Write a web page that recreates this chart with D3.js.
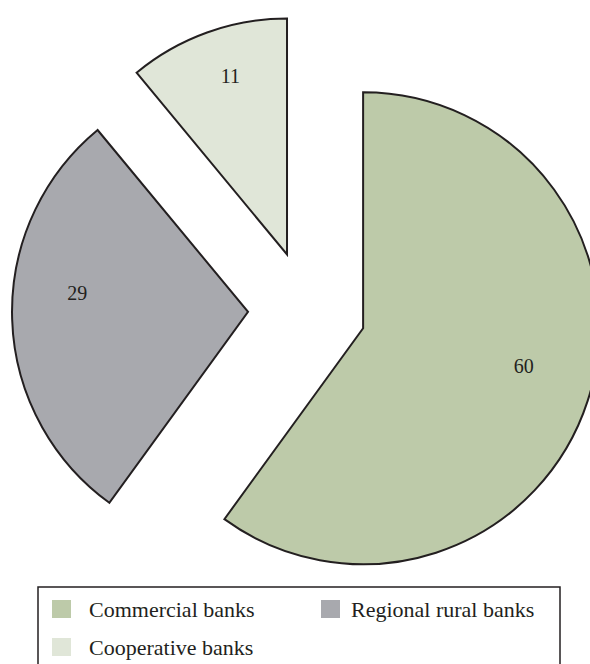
<!DOCTYPE html>
<html>
<head>
<meta charset="utf-8">
<script src="https://cdn.jsdelivr.net/npm/d3@7"></script>
<style>
  body { margin: 0; background: #fff; }
  text { font-family: "Liberation Serif", "DejaVu Serif", serif; fill: #231f20; }
</style>
</head>
<body>
<div id="chart"></div>
<script>
// data
var categories = ["Commercial banks", "Regional rural banks", "Cooperative banks"];
var shares = [60, 29, 11];
var colours = ["#bdcaa9", "#a8a9ae", "#e0e6d8"];

var width = 590, height = 664;
var cx = 306, cy = 310, radius = 236, explode = 59;

var svg = d3.select("#chart")
  .append("svg")
    .attr("width", width)
    .attr("height", height);

var data = categories.map(function(c, i) { return {name: c, value: shares[i], colour: colours[i]}; });

var pie = d3.pie()
  .sort(null)
  .value(function(d) { return d.value; });

var arc = d3.arc().innerRadius(0).outerRadius(radius);

var g = svg.append("g")
  .attr("transform", "translate(" + cx + "," + cy + ")");

function mid(d) { return (d.startAngle + d.endAngle) / 2; }

var slices = g.selectAll("g.slice")
  .data(pie(data))
  .enter().append("g")
    .attr("class", "slice")
    .attr("transform", function(d) {
      var a = mid(d);
      return "translate(" + (Math.sin(a) * explode + 1) + "," + (-Math.cos(a) * explode) + ")";
    });

slices.append("path")
  .attr("d", arc)
  .attr("fill", function(d) { return d.data.colour; })
  .attr("stroke", "#231f20")
  .attr("stroke-width", 2)
  .attr("stroke-linejoin", "miter");

// value labels, pulled a bit toward the top of each slice
var labelR = radius * 0.72;
var labelNudge = [[-1, -12], [-1, -22], [1, -16]];
slices.append("text")
  .attr("x", function(d, i) { return Math.sin(mid(d)) * labelR + labelNudge[i][0]; })
  .attr("y", function(d, i) { return -Math.cos(mid(d)) * labelR + labelNudge[i][1]; })
  .attr("text-anchor", "middle")
  .attr("dominant-baseline", "middle")
  .style("font-size", "20px")
  .text(function(d) { return d.data.value; });

// legend
var legend = svg.append("g");
legend.append("rect")
  .attr("x", 38).attr("y", 587)
  .attr("width", 522).attr("height", 90)
  .attr("fill", "none")
  .attr("stroke", "#231f20")
  .attr("stroke-width", 1.5);

var legendPos = [[52, 600, 37], [321, 600, 30], [52, 638, 37]];
var items = legend.selectAll("g.item")
  .data(data)
  .enter().append("g")
    .attr("class", "item")
    .attr("transform", function(d, i) { return "translate(" + legendPos[i][0] + "," + legendPos[i][1] + ")"; });

items.append("rect")
  .attr("width", 19).attr("height", 18)
  .attr("fill", function(d) { return d.colour; });

items.append("text")
  .attr("x", function(d, i) { return legendPos[i][2]; })
  .attr("y", 17)
  .style("font-size", "22px")
  .text(function(d) { return d.name; });
</script>
</body>
</html>
